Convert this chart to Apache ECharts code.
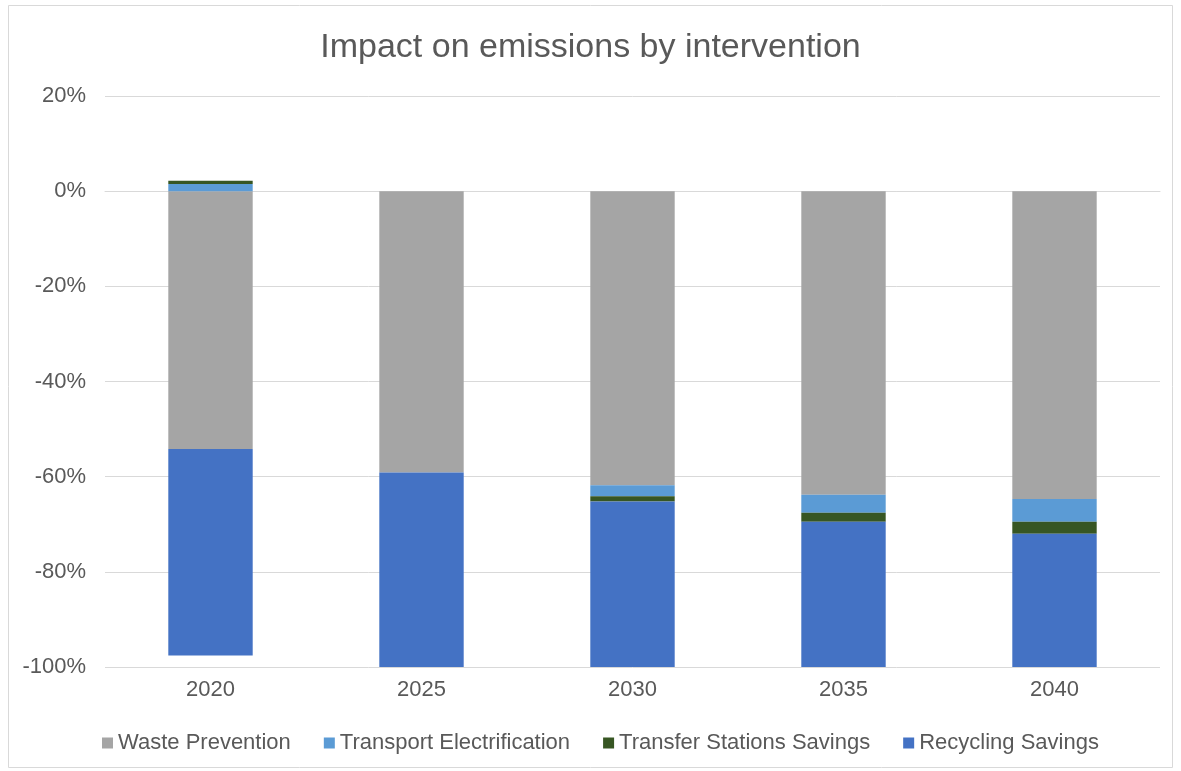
<!DOCTYPE html>
<html>
<head>
<meta charset="utf-8">
<script src="https://cdn.jsdelivr.net/npm/echarts@6/dist/echarts.min.js"></script>
<style>
  html, body { margin: 0; padding: 0; background: #fff; }
  #chart { width: 1181px; height: 771px; }
</style>
</head>
<body>
<div id="chart"></div>
<script>
// Years on the category axis
const years = ['2020', '2025', '2030', '2035', '2040'];

// Change in emissions per intervention, percent
const wastePrevention = [-54.2, -59.1, -61.8, -63.8, -64.7];
const transportElectrification = [1.5, 0, -2.3, -3.8, -4.8];
const transferStationsSavings = [0.7, 0, -1.1, -1.9, -2.5];
const recyclingSavings = [-43.4, -40.9, -34.8, -30.5, -28.0];

// Value axis ticks, percent
const yTicks = [-100, -80, -60, -40, -20, 0, 20];

const seriesDefs = [
  { name: 'Waste Prevention', data: wastePrevention, color: '#A5A5A5' },
  { name: 'Transport Electrification', data: transportElectrification, color: '#5B9BD5' },
  { name: 'Transfer Stations Savings', data: transferStationsSavings, color: '#375623' },
  { name: 'Recycling Savings', data: recyclingSavings, color: '#4472C4' }
];

const font = '"Liberation Sans", Arial, sans-serif';
const chart = echarts.init(document.getElementById('chart'), null, { renderer: 'canvas' });

chart.setOption({
  backgroundColor: '#fff',
  animation: false,
  graphic: [{
    type: 'rect',
    shape: { x: 8.5, y: 5.5, width: 1164, height: 762 },
    style: { fill: 'none', stroke: '#D9D9D9', lineWidth: 1 },
    silent: true
  }],
  title: {
    text: 'Impact on emissions by intervention',
    left: 'center',
    top: 26,
    textStyle: { fontFamily: font, fontSize: 34, fontWeight: 'normal', color: '#595959' }
  },
  legend: {
    top: 727,
    left: 97,
    itemWidth: 11,
    itemHeight: 11,
    itemGap: 33,
    icon: 'rect',
    textStyle: { fontFamily: font, fontSize: 22, color: '#595959' },
    data: seriesDefs.map(s => s.name)
  },
  grid: { left: 105, right: 21, top: 96, bottom: 104 },
  xAxis: {
    type: 'category',
    data: years,
    axisLine: { show: true, lineStyle: { color: '#D9D9D9', width: 1 } },
    axisTick: { show: false },
    axisLabel: { fontFamily: font, fontSize: 22, color: '#595959', margin: 12 }
  },
  yAxis: {
    type: 'value',
    min: yTicks[0],
    max: yTicks[yTicks.length - 1],
    interval: 20,
    axisLine: { show: false },
    axisTick: { show: false },
    splitLine: { lineStyle: { color: '#D9D9D9', width: 1 } },
    axisLabel: {
      fontFamily: font, fontSize: 22, color: '#595959', margin: 19,
      formatter: v => v + '%'
    }
  },
  series: seriesDefs.map(s => ({
    name: s.name,
    type: 'bar',
    stack: 'total',
    data: s.data,
    barWidth: '40%',
    itemStyle: { color: s.color },
    emphasis: { disabled: true }
  }))
});
</script>
</body>
</html>
